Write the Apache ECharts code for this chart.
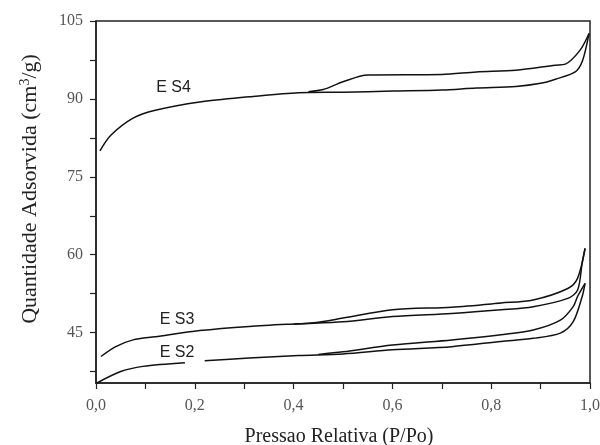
<!DOCTYPE html>
<html><head><meta charset="utf-8">
<script src="https://cdn.jsdelivr.net/npm/echarts@6/dist/echarts.min.js"></script>
<style>html,body{margin:0;padding:0;background:#fff}#c{width:600px;height:445px}</style>
</head><body><div id="c"></div>
<script>
var xTickLabels = [0, 0.2, 0.4, 0.6, 0.8, 1.0];
var xTicks = [0, 0.1, 0.2, 0.3, 0.4, 0.5, 0.6, 0.7, 0.8, 0.9, 1.0];
var yTickLabels = [45, 60, 75, 90, 105];
var yTicks = [37.5, 45, 52.5, 60, 67.5, 75, 82.5, 90, 97.5, 105];

var es4Ads = [[0.008,80],[0.03,83],[0.075,86.3],[0.12,87.8],[0.21,89.4],[0.31,90.4],[0.41,91.2],[0.5,91.3],[0.6,91.5],[0.7,91.7],[0.77,92.1],[0.85,92.4],[0.9,93],[0.93,93.8],[0.97,95.2],[0.985,97.4],[0.998,102.6]];
var es4Des = [[0.998,102.6],[0.98,99.4],[0.95,96.7],[0.93,96.5],[0.85,95.5],[0.77,95.2],[0.7,94.7],[0.55,94.6],[0.5,93.3],[0.46,91.8],[0.43,91.4]];
var es3Ads = [[0.01,40.4],[0.04,42.3],[0.075,43.6],[0.12,44.2],[0.21,45.4],[0.31,46.2],[0.41,46.7],[0.5,47.1],[0.6,48.1],[0.72,48.7],[0.82,49.4],[0.885,50.0],[0.955,51.6],[0.975,53.2],[0.984,58.3],[0.99,61.2]];
var es3Des = [[0.99,61.2],[0.975,55.5],[0.955,53.5],[0.885,51.3],[0.82,50.7],[0.72,49.9],[0.6,49.4],[0.5,47.8],[0.45,47],[0.4,46.6]];
var es2Ads = [[0.002,35.3],[0.05,37.5],[0.095,38.5],[0.18,39.2],[0.195,null],[0.22,39.6],[0.31,40.1],[0.41,40.6],[0.5,40.9],[0.6,41.7],[0.72,42.3],[0.82,43.3],[0.885,43.9],[0.94,44.9],[0.966,47.1],[0.984,51.9],[0.99,54.5]];
var es2Des = [[0.99,54.5],[0.975,52],[0.966,50],[0.94,47.4],[0.885,45.5],[0.82,44.6],[0.72,43.6],[0.6,42.6],[0.5,41.3],[0.45,40.8]];
var curveLabels = [['E S4', 0.157, 92.2], ['E S3', 0.164, 47.5], ['E S2', 0.164, 41.1]];

var chart = echarts.init(document.getElementById('c'));
var lineStyle = {color: '#111', width: 1.5};
function mk(name, data, lab) {
  var s = {name: name, type: 'line', data: data, showSymbol: false, symbol: 'none', smooth: 0.3,
    lineStyle: lineStyle, silent: true, animation: false, connectNulls: false};
  if (lab) {
    s.markPoint = {symbol: 'circle', symbolSize: 0, silent: true, animation: false,
      data: [{coord: [lab[1], lab[2]], value: lab[0]}],
      label: {show: true, position: 'inside', formatter: lab[0], color: '#222',
        fontFamily: 'Liberation Sans, Arial', fontSize: 16}};
  }
  return s;
}
chart.setOption({
  animation: false,
  backgroundColor: '#fff',
  grid: {left: 96, right: 10, top: 21, bottom: 62, containLabel: false, outerBoundsMode: 'none',
    show: true, borderColor: '#222', borderWidth: 1.5, backgroundColor: 'transparent'},
  xAxis: {type: 'value', min: 0, max: 1, interval: 0.1,
    name: 'Pressao Relativa (P/Po)', nameLocation: 'middle', nameGap: 44,
    nameTextStyle: {fontFamily: 'Liberation Serif', fontSize: 20, color: '#222', padding: [0, 8, 0, 0]},
    axisLine: {lineStyle: {color: '#222', width: 1.5}},
    axisTick: {show: true, inside: false, length: 6, customValues: xTicks, lineStyle: {color: '#222', width: 1.2}},
    axisLabel: {customValues: xTickLabels, fontFamily: 'Liberation Serif', fontSize: 16, color: '#555', margin: 15,
      formatter: function (v) { return v.toFixed(1).replace('.', ','); }},
    splitLine: {show: false}},
  yAxis: {type: 'value', min: 35.3, max: 105,
    name: '{a|Quantidade Adsorvida (cm}{s|3}{a|/g)}', nameLocation: 'middle', nameGap: 54, nameRotate: 90,
    nameTextStyle: {padding: [0, 0, 0, 26], rich: {a: {fontFamily: 'Liberation Serif', fontSize: 22, color: '#222'},
      s: {fontFamily: 'Liberation Serif', fontSize: 14, color: '#222', verticalAlign: 'top', padding: [0, 0, 10, 0]}}},
    axisLine: {show: true, lineStyle: {color: '#222', width: 1.5}},
    axisTick: {show: true, inside: false, length: 6, customValues: yTicks, lineStyle: {color: '#222', width: 1.2}},
    axisLabel: {customValues: yTickLabels, fontFamily: 'Liberation Serif', fontSize: 16, color: '#555', margin: 13},
    splitLine: {show: false}},
  series: [
    mk('ES4 ads', es4Ads, curveLabels[0]), mk('ES4 des', es4Des),
    mk('ES3 ads', es3Ads, curveLabels[1]), mk('ES3 des', es3Des),
    mk('ES2 ads', es2Ads, curveLabels[2]), mk('ES2 des', es2Des)
  ]
});
</script></body></html>
